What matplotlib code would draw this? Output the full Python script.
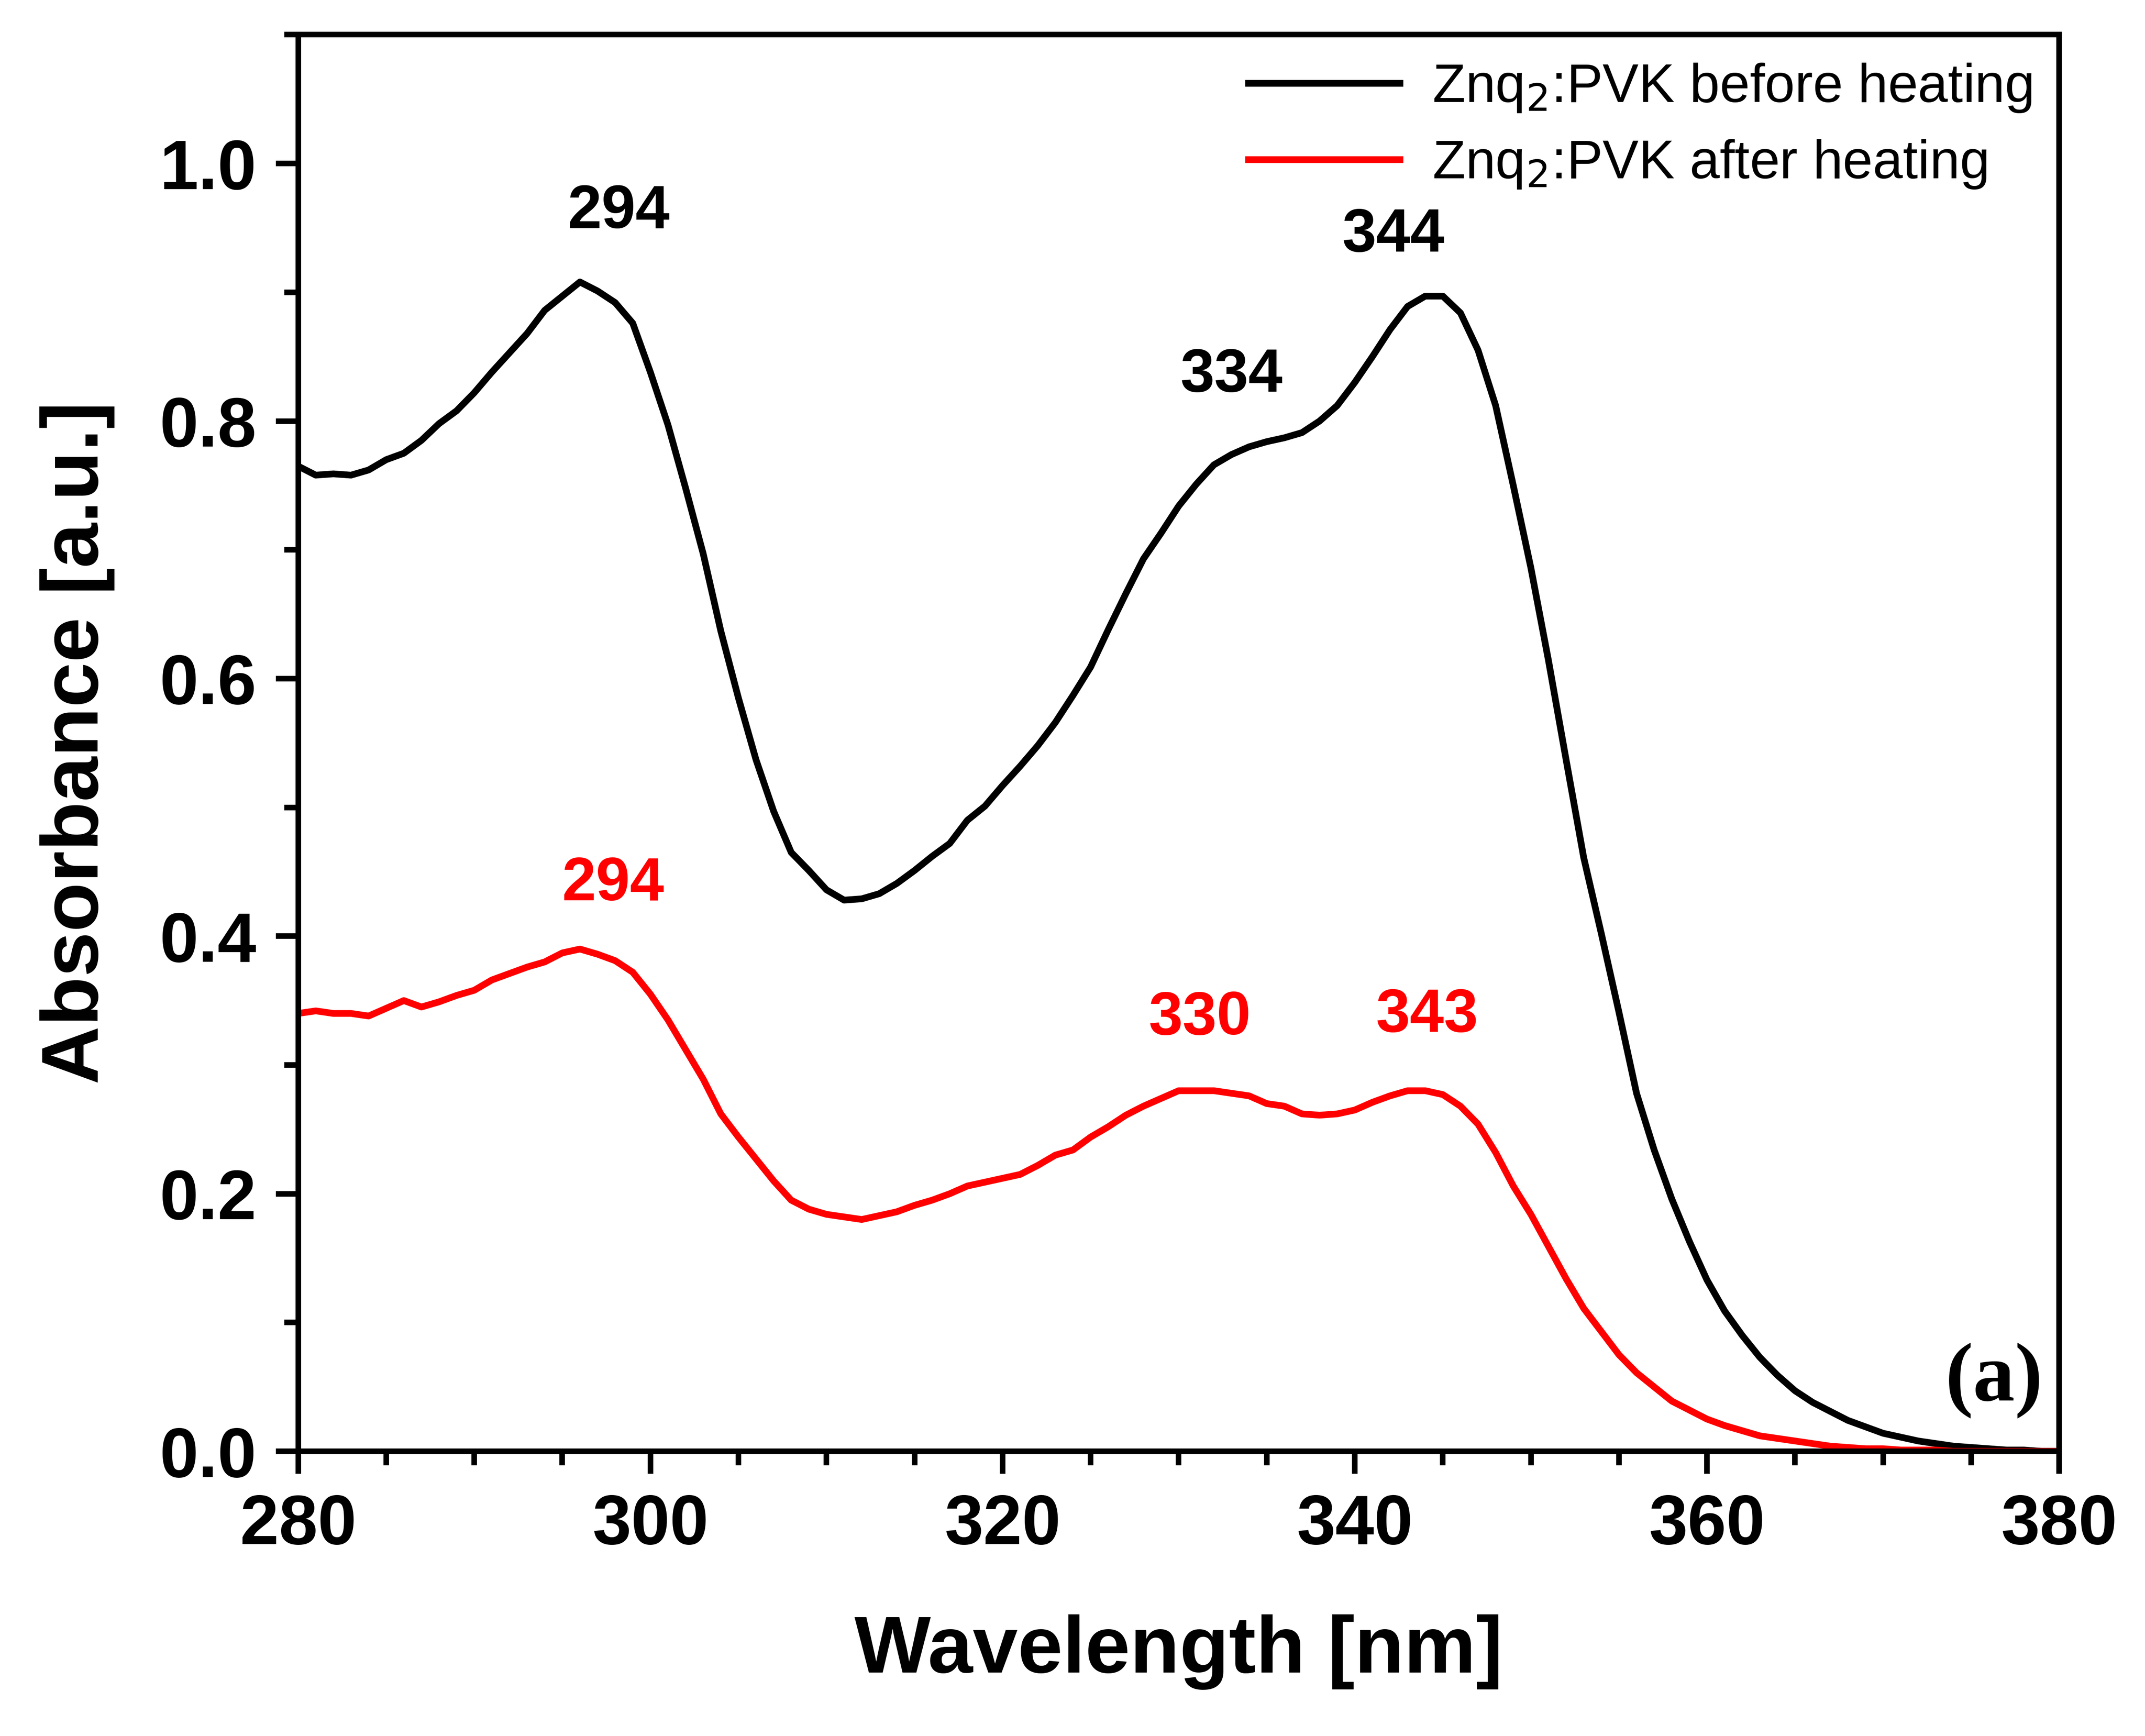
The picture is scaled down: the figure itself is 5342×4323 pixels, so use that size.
import numpy as np
import matplotlib.pyplot as plt
from matplotlib.ticker import MultipleLocator

plt.rcParams['font.family'] = ['Liberation Sans', 'DejaVu Sans']

wl = np.arange(280, 381)

before = [0.765, 0.758, 0.759, 0.758, 0.762, 0.770, 0.775, 0.785, 0.798, 0.808,
          0.822, 0.838, 0.853, 0.868, 0.886, 0.897, 0.908, 0.901, 0.892, 0.876,
          0.838, 0.797, 0.748, 0.697, 0.637, 0.585, 0.537, 0.497, 0.465, 0.451,
          0.436, 0.428, 0.429, 0.433, 0.441, 0.451, 0.462, 0.472, 0.490, 0.501,
          0.517, 0.532, 0.548, 0.566, 0.587, 0.609, 0.638, 0.666, 0.693, 0.713,
          0.734, 0.751, 0.766, 0.774, 0.780, 0.784, 0.787, 0.791, 0.800, 0.812,
          0.830, 0.850, 0.871, 0.889, 0.897, 0.897, 0.884, 0.855, 0.812, 0.750,
          0.686, 0.614, 0.537, 0.461, 0.402, 0.341, 0.278, 0.234, 0.196, 0.163,
          0.133, 0.109, 0.090, 0.073, 0.059, 0.047, 0.038, 0.031, 0.024, 0.019,
          0.014, 0.011, 0.008, 0.006, 0.004, 0.003, 0.002, 0.001, 0.001, 0.0, 0.0]

after = [0.340, 0.342, 0.340, 0.340, 0.338, 0.344, 0.350, 0.345, 0.349, 0.354,
         0.358, 0.366, 0.371, 0.376, 0.380, 0.387, 0.390, 0.386, 0.381, 0.372,
         0.355, 0.335, 0.312, 0.289, 0.262, 0.244, 0.227, 0.210, 0.195, 0.188,
         0.184, 0.182, 0.180, 0.183, 0.186, 0.191, 0.195, 0.200, 0.206, 0.209,
         0.212, 0.215, 0.222, 0.230, 0.234, 0.244, 0.252, 0.261, 0.268, 0.274,
         0.280, 0.280, 0.280, 0.278, 0.276, 0.270, 0.268, 0.262, 0.261, 0.262,
         0.265, 0.271, 0.276, 0.280, 0.280, 0.277, 0.268, 0.254, 0.232, 0.206,
         0.184, 0.159, 0.134, 0.111, 0.093, 0.075, 0.061, 0.050, 0.039, 0.032,
         0.025, 0.020, 0.016, 0.012, 0.010, 0.008, 0.006, 0.004, 0.003, 0.002,
         0.002, 0.001, 0.001, 0.001, 0.0, 0.0, 0.0, 0.0, 0.0, 0.0, 0.0]

# peak labels: (text, x, y, colour)
peaks = [('294', 298.2, 0.962, 'black'), ('334', 333.0, 0.835, 'black'),
         ('344', 342.2, 0.944, 'black'), ('294', 297.9, 0.440, 'red'),
         ('330', 331.2, 0.336, 'red'), ('343', 344.1, 0.338, 'red')]

fig = plt.figure(figsize=(5.342, 4.323), dpi=1000)
ax = fig.add_axes([0.139, 0.164, 0.821, 0.816])
ax.plot(wl, before, color='black', lw=1.2, label='Znq$_2$:PVK before heating')
ax.plot(wl, after, color='red', lw=1.2, label='Znq$_2$:PVK after heating')

for txt, x, y, c in peaks:
    ax.text(x, y, txt, color=c, fontsize=11, fontweight='bold', ha='center', va='center')
ax.text(376.3, 0.055, '(a)', fontsize=15, fontweight='bold', family='Liberation Serif',
        ha='center', va='center')

ax.set_xlim(280, 380)
ax.set_ylim(0, 1.1)
ax.set_yticks([0, 0.2, 0.4, 0.6, 0.8, 1.0])
ax.set_yticklabels(['0.0', '0.2', '0.4', '0.6', '0.8', '1.0'])
ax.xaxis.set_minor_locator(MultipleLocator(5))
ax.yaxis.set_minor_locator(MultipleLocator(0.1))
ax.tick_params(which='major', length=4, width=1, labelsize=12.5)
ax.tick_params(which='minor', length=2.5, width=1)
for lab in ax.get_xticklabels() + ax.get_yticklabels():
    lab.set_fontweight('bold')
for s in ax.spines.values():
    s.set_linewidth(1)
ax.set_xlabel('Wavelength [nm]', fontsize=14.5, fontweight='bold', labelpad=10)
ax.set_ylabel('Absorbance [a.u.]', fontsize=14.5, fontweight='bold', labelpad=8)
ax.legend(loc='upper right', frameon=False, fontsize=9.7, handlelength=2.8,
          borderaxespad=0.1, labelspacing=0.45, handletextpad=0.6)

fig.savefig('out.png')
